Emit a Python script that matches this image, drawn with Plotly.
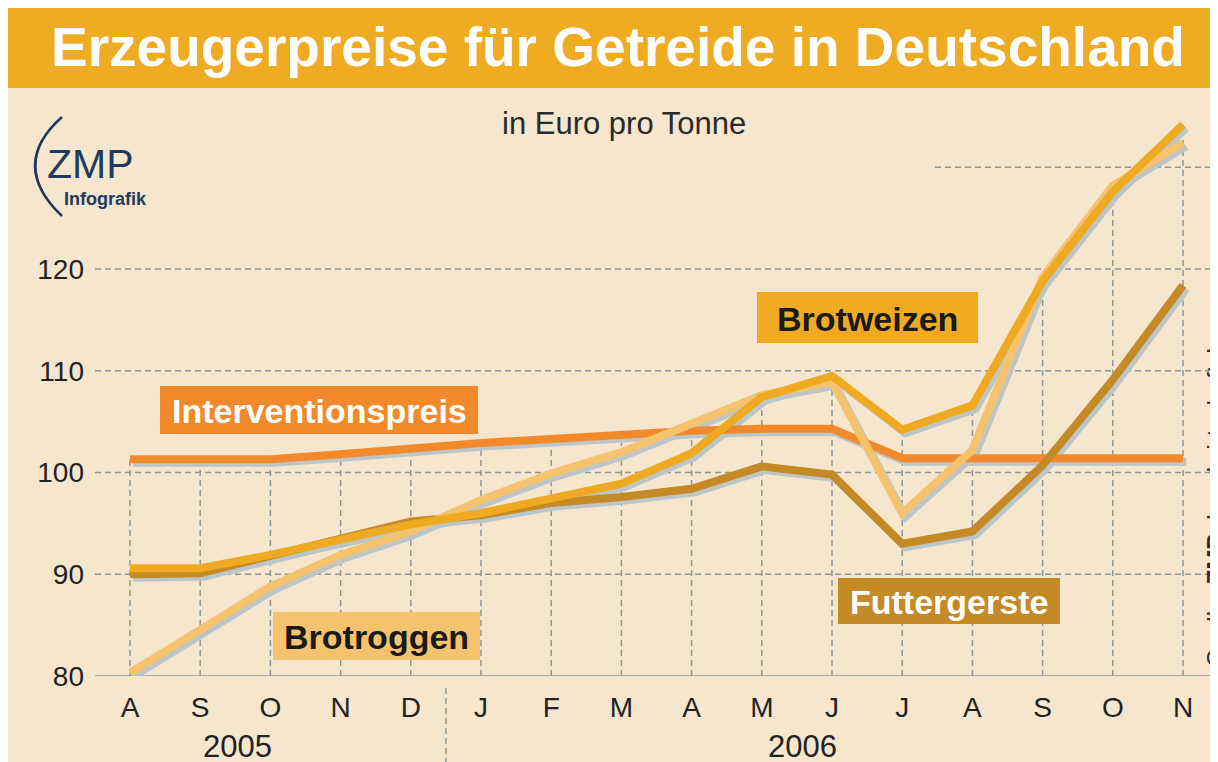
import plotly.graph_objects as go

months = ["A", "S", "O", "N", "D", "J", "F", "M", "A", "M", "J", "J", "A", "S", "O", "N"]
interventionspreis = [101.3, 101.3, 101.3, 101.8, 102.4, 102.9, 103.3, 103.7, 104.1, 104.3, 104.3, 101.4, 101.4, 101.4, 101.4, 101.4]
brotweizen = [90.6, 90.6, 91.9, 93.5, 94.9, 96.0, 97.5, 98.9, 101.9, 107.4, 109.5, 104.2, 106.6, 118.8, 127.6, 134.2]
brotroggen = [80.3, 84.5, 88.8, 91.9, 94.2, 97.3, 99.9, 102.0, 104.8, 107.6, 108.9, 96.0, 102.2, 119.2, 128.2, 132.4]
futtergerste = [90.0, 90.1, 91.8, 93.6, 95.2, 95.8, 97.0, 97.6, 98.4, 100.6, 99.8, 93.0, 94.2, 100.7, 109.1, 118.4]
y_ticks = [80, 90, 100, 110, 120]
years = ["2005", "2006"]

C_INT = "#F28A2C"
C_WEI = "#F0AA22"
C_ROG = "#F5C26E"
C_GER = "#C48A26"
C_SHADOW = "#BCC6C9"
C_GRID = "#8C969A"
BEIGE = "#F5E6CD"
NAVY = "#1E3A5C"

# page offset of the figure (browser body margin)
OFF = 8
# plot area in screen pixels
L, R, T, B = 95, 1195, 100, 676
SW, SH = 1218, 762
W, H = SW - OFF, SH - OFF


def px(x):
    return (x - L) / (R - L)


def py(y):
    return (B - y) / (B - T)


x_idx = list(range(len(months)))
series = [
    ("Interventionspreis", interventionspreis, C_INT),
    ("Futtergerste", futtergerste, C_GER),
    ("Brotroggen", brotroggen, C_ROG),
    ("Brotweizen", brotweizen, C_WEI),
]

fig = go.Figure()
for name, vals, col in series:
    fig.add_trace(go.Scatter(
        x=[i + 0.045 for i in x_idx], y=[v - 0.35 for v in vals], mode="lines",
        line=dict(color=C_SHADOW, width=8), hoverinfo="skip", showlegend=False))
for name, vals, col in series:
    fig.add_trace(go.Scatter(
        x=x_idx, y=vals, mode="lines", name=name,
        line=dict(color=col, width=8), showlegend=False))

shapes = []
# title bar
shapes.append(dict(type="rect", xref="paper", yref="paper", x0=px(OFF - 2), x1=px(SW + 5),
                   y0=py(88), y1=py(OFF - 2), fillcolor="#EFAB22", line=dict(width=0), layer="below"))
grid = dict(color=C_GRID, width=1.5, dash="6px,4px")
for v in [90, 100, 110, 120]:
    shapes.append(dict(type="line", xref="paper", yref="y", x0=0, x1=px(1212), y0=v, y1=v,
                       line=grid, layer="below"))
shapes.append(dict(type="line", xref="paper", yref="y", x0=px(935), x1=px(1212), y0=130, y1=130,
                   line=grid, layer="below"))
for i in x_idx:
    top = max(interventionspreis[i], brotweizen[i], brotroggen[i], futtergerste[i])
    shapes.append(dict(type="line", xref="x", yref="y", x0=i, x1=i, y0=80, y1=top,
                       line=grid, layer="below"))
shapes.append(dict(type="line", xref="paper", yref="y", x0=0, x1=px(1212), y0=80, y1=80,
                   line=dict(color=C_GRID, width=1.5), layer="below"))
shapes.append(dict(type="line", xref="x", yref="paper", x0=4.5, x1=4.5, y0=py(688), y1=py(SH + 5),
                   line=grid, layer="below"))

boxes = [
    ("Interventionspreis", (160, 478, 386, 434), C_INT, "white"),
    ("Brotweizen", (757, 978, 292, 343), C_WEI, "#1a1a1a"),
    ("Brotroggen", (273, 480, 612, 660), C_ROG, "#1a1a1a"),
    ("Futtergerste", (838, 1060, 578, 624), C_GER, "white"),
]
annotations = []
for text, (x0, x1, y0, y1), fill, tc in boxes:
    shapes.append(dict(type="rect", xref="paper", yref="paper", x0=px(x0), x1=px(x1),
                       y0=py(y1), y1=py(y0), fillcolor=fill, line=dict(width=0), layer="above"))
    annotations.append(dict(text="<b>%s</b>" % text, xref="paper", yref="paper",
                            x=px((x0 + x1) / 2), y=py((y0 + y1) / 2 + 1), showarrow=False,
                            xanchor="center", yanchor="middle",
                            font=dict(family="Liberation Sans, Arial", size=34, color=tc)))


def arc_path(pts):
    (x0, y0), (cx, cy), (x1, y1) = pts
    return "M %f,%f Q %f,%f %f,%f" % (px(x0), py(y0), px(cx), py(cy), px(x1), py(y1))


shapes.append(dict(type="path", xref="paper", yref="paper",
                   path=arc_path([(62, 117), (8, 165), (62, 216)]),
                   line=dict(color=NAVY, width=2.5)))
shapes.append(dict(type="path", xref="paper", yref="paper",
                   path=arc_path([(56, 122), (16, 165), (56, 210)]),
                   line=dict(color=NAVY, width=1.2)))

annotations += [
    dict(text="<b>Erzeugerpreise für Getreide in Deutschland</b>", xref="paper", yref="paper",
         x=px(618), y=py(47), showarrow=False, xanchor="center", yanchor="middle",
         font=dict(family="Liberation Sans, Arial", size=55, color="white")),
    dict(text="in Euro pro Tonne", xref="paper", yref="paper", x=px(624), y=py(124),
         showarrow=False, xanchor="center", yanchor="middle",
         font=dict(family="Liberation Sans, Arial", size=31, color="#2a2a2a")),
    dict(text="ZMP", xref="paper", yref="paper", x=px(45), y=py(164), showarrow=False,
         xanchor="left", yanchor="middle",
         font=dict(family="Liberation Sans, Arial", size=41, color=NAVY)),
    dict(text="<b>Infografik</b>", xref="paper", yref="paper", x=px(62), y=py(199), showarrow=False,
         xanchor="left", yanchor="middle",
         font=dict(family="Liberation Sans, Arial", size=18, color=NAVY)),
    dict(text="Quelle: <b>ZMP</b>, Landwirtschaftskammern", xref="paper", yref="paper",
         x=px(1215), y=py(460), showarrow=False, textangle=-90, xanchor="center", yanchor="middle",
         font=dict(family="Liberation Sans, Arial", size=24, color="#2a2a2a")),
    dict(text=years[0], xref="paper", yref="paper", x=px(237), y=py(746), showarrow=False,
         xanchor="center", yanchor="middle",
         font=dict(family="Liberation Sans, Arial", size=31, color="#222")),
    dict(text=years[1], xref="paper", yref="paper", x=px(802), y=py(746), showarrow=False,
         xanchor="center", yanchor="middle",
         font=dict(family="Liberation Sans, Arial", size=31, color="#222")),
]

fig.update_layout(
    width=W, height=H,
    margin=dict(l=L - OFF, r=SW - R, t=T - OFF, b=SH - B),
    paper_bgcolor=BEIGE, plot_bgcolor="rgba(0,0,0,0)",
    shapes=shapes, annotations=annotations, showlegend=False,
    xaxis=dict(range=[-0.4986, 15.171], tickvals=x_idx, ticktext=months, showgrid=False,
               zeroline=False, showline=False, ticks="", ticklabelstandoff=12,
               tickfont=dict(family="Liberation Sans, Arial", size=28, color="#222")),
    yaxis=dict(range=[80, 136.61], tickvals=y_ticks, showgrid=False, zeroline=False,
               showline=False, ticks="", ticklabelstandoff=10,
               tickfont=dict(family="Liberation Sans, Arial", size=28, color="#222")),
)

fig.write_html("out.html")
